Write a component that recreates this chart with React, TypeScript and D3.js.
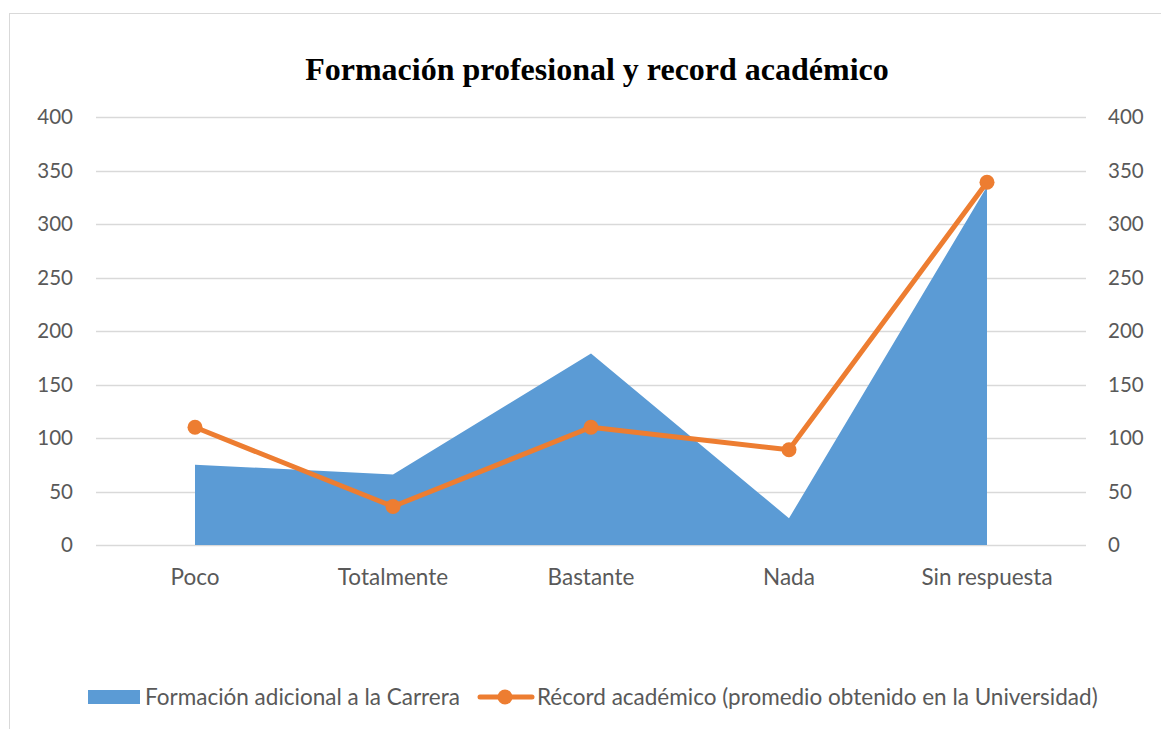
import React, { useEffect, useRef } from "react";
import * as d3 from "d3";

const categories = ["Poco", "Totalmente", "Bastante", "Nada", "Sin respuesta"];
const formacion = [75, 66, 179, 25, 335];
const record = [110, 36, 110, 89, 339];
const yTicks = [0, 50, 100, 150, 200, 250, 300, 350, 400];
const title = "Formación profesional y record académico";
const seriesNames = ["Formación adicional a la Carrera", "Récord académico (promedio obtenido en la Universidad)"];

const W = 1161, H = 729;
const BLUE = "#5b9bd5", ORANGE = "#ed7d31";
const FONT = "Lato, 'Open Sans', sans-serif";

export default function App() {
  const ref = useRef<SVGSVGElement>(null);
  useEffect(() => {
    const svg = d3.select(ref.current);
    svg.selectAll("*").remove();
    const left = 96, right = 1086, top = 117, bottom = 545;
    const x = d3.scaleBand().domain(categories).range([left, right]);
    const cx = (c: string) => (x(c) as number) + x.bandwidth() / 2;
    const y = d3.scaleLinear().domain([0, 400]).range([bottom, top]);

    svg.append("rect").attr("x", 9.5).attr("y", 13.5).attr("width", 1170).attr("height", 740)
      .attr("fill", "white").attr("stroke", "#d9d9d9").attr("stroke-width", 1);

    svg.append("text").attr("x", 597).attr("y", 80).attr("text-anchor", "middle")
      .attr("font-family", "'Liberation Serif', 'Times New Roman', serif").attr("font-weight", "bold")
      .attr("font-size", 32).attr("fill", "#000").text(title);

    const g = svg.append("g");
    g.selectAll("line.grid").data(yTicks).join("line").attr("class", "grid")
      .attr("x1", left).attr("x2", right).attr("y1", d => Math.round(y(d)) + 0.5).attr("y2", d => Math.round(y(d)) + 0.5)
      .attr("stroke", "#d9d9d9").attr("stroke-width", 1.3);

    g.selectAll("text.yl").data(yTicks).join("text").attr("class", "yl")
      .attr("x", 73).attr("y", d => y(d)).attr("dy", "0.36em").attr("text-anchor", "end")
      .attr("font-family", FONT).attr("font-size", 20.5).attr("fill", "#595959").text(d => d);
    g.selectAll("text.yr").data(yTicks).join("text").attr("class", "yr")
      .attr("x", 1108).attr("y", d => y(d)).attr("dy", "0.36em").attr("text-anchor", "start")
      .attr("font-family", FONT).attr("font-size", 20.5).attr("fill", "#595959").text(d => d);

    g.selectAll("text.xl").data(categories).join("text").attr("class", "xl")
      .attr("x", d => cx(d)).attr("y", 577).attr("dy", "0.36em").attr("text-anchor", "middle")
      .attr("font-family", FONT).attr("font-size", 22.5).attr("fill", "#595959").text(d => d);

    const area = d3.area<number>().x((_, i) => cx(categories[i])).y0(y(0)).y1(d => y(d));
    g.append("path").datum(formacion).attr("d", area).attr("fill", BLUE);

    const line = d3.line<number>().x((_, i) => cx(categories[i])).y(d => y(d));
    g.append("path").datum(record).attr("d", line).attr("fill", "none").attr("stroke", ORANGE)
      .attr("stroke-width", 5).attr("stroke-linejoin", "round").attr("stroke-linecap", "round");
    g.selectAll("circle.m").data(record).join("circle").attr("class", "m")
      .attr("cx", (_, i) => cx(categories[i])).attr("cy", d => y(d)).attr("r", 7.5).attr("fill", ORANGE);

    // legend
    const ly = 697;
    svg.append("rect").attr("x", 88).attr("y", ly - 7).attr("width", 52).attr("height", 14).attr("fill", BLUE);
    svg.append("text").attr("x", 145).attr("y", ly).attr("dy", "0.36em").attr("font-family", FONT)
      .attr("font-size", 22.5).attr("fill", "#595959").text(seriesNames[0]);
    svg.append("line").attr("x1", 480).attr("x2", 532).attr("y1", ly).attr("y2", ly)
      .attr("stroke", ORANGE).attr("stroke-width", 5).attr("stroke-linecap", "round");
    svg.append("circle").attr("cx", 505).attr("cy", ly).attr("r", 7.5).attr("fill", ORANGE);
    svg.append("text").attr("x", 537).attr("y", ly).attr("dy", "0.36em").attr("font-family", FONT)
      .attr("font-size", 22.5).attr("fill", "#595959").text(seriesNames[1]);
  }, []);
  return (
    <svg ref={ref} width={W} height={H} style={{ position: "absolute", left: 0, top: 0, background: "white" }} />
  );
}
